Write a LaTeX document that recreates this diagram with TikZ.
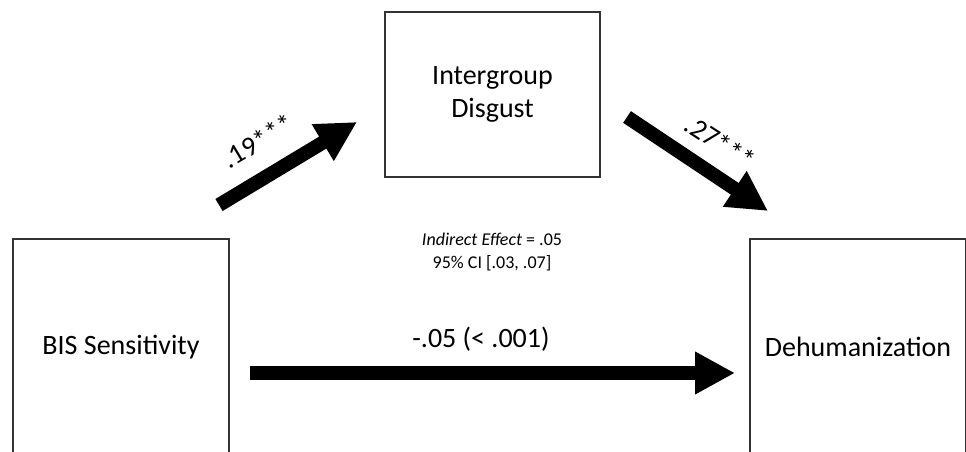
\documentclass[tikz,border=0pt]{standalone}
\usepackage{fontspec}
\setmainfont{Carlito}
\usetikzlibrary{arrows.meta,calc}
\begin{document}
\begin{tikzpicture}[x=1pt,y=-1pt,
 box/.style={draw=black!80, line width=1.5pt, minimum width=216pt, minimum height=216pt, inner sep=0pt, font=\fontsize{28}{33}\selectfont, align=center},
 bigarrow/.style={line width=14pt, -{Triangle[length=40pt,width=40pt]}},
 lbl/.style={font=\fontsize{28}{33}\selectfont, inner sep=0pt},
 small/.style={font=\fontsize{18}{23}\selectfont, align=center, inner sep=0pt}]
\useasboundingbox (0,0) rectangle (966,452);
\clip (0,0) rectangle (966,452);
\fill[white] (0,0) rectangle (966,452);
\node[box] (bis) at (121,347) {BIS Sensitivity};
\node[box] (deh) at (858,347) {Dehumanization};
\node[box, minimum width=215pt, minimum height=165pt] (dis) at (492.5,94.5) {Intergroup\\Disgust};
\coordinate (h1) at (250,373);
\coordinate (h2) at (735,373);
\coordinate (u1) at (219,205);
\coordinate (u2) at (357,122);
\coordinate (d1) at (627,117);
\coordinate (d2) at (768,211);
\draw[bigarrow] (h1) -- (h2);
\draw[bigarrow] (u1) -- (u2);
\draw[bigarrow] (d1) -- (d2);
\node[lbl, rotate=31] (l1) at (258,141) {.19***};
\node[lbl, rotate=-33] (l2) at (720,142) {.27***};
\node[lbl] (l3) at (481,339) {-.05 (< .001)};
\node[small] (ie) at (492,252) {\textit{Indirect Effect} = .05\\95\% CI [.03, .07]};
\end{tikzpicture}
\end{document}
